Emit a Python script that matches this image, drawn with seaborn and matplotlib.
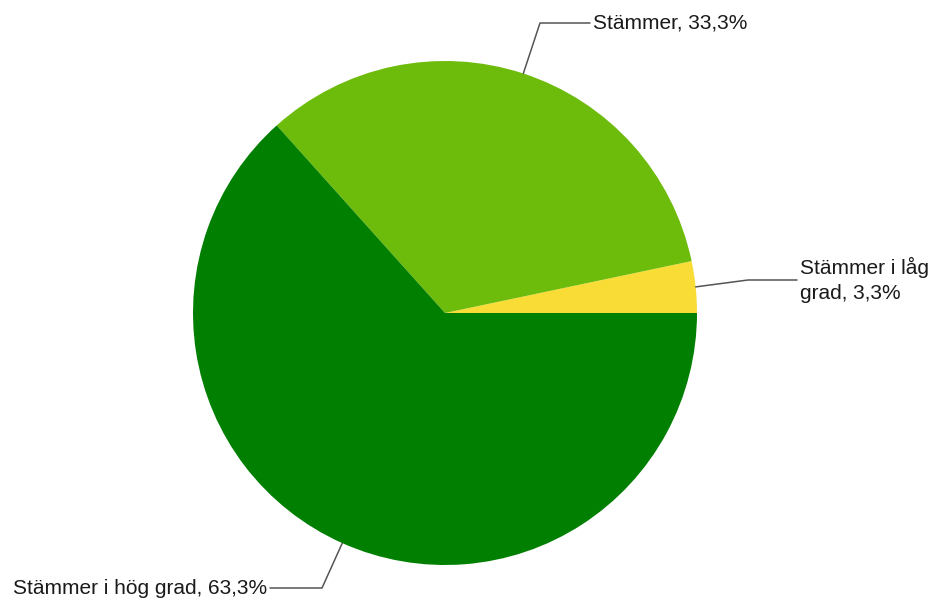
import numpy as np
import seaborn as sns
import matplotlib.pyplot as plt

labels = ["Stämmer i låg\ngrad, 3,3%", "Stämmer, 33,3%", "Stämmer i hög grad, 63,3%"]
values = [3.3, 33.3, 63.3]
colors = ["#F9DC35", "#6DBB0A", "#007F00"]

sns.set_theme(style="white")
plt.rcParams['font.family'] = ['Liberation Sans', 'DejaVu Sans']

W, H = 935, 601
fig = plt.figure(figsize=(W / 100, H / 100), dpi=100)
ax = fig.add_axes([0, 0, 1, 1])

cx, cy, r = 445, H - 313, 252
wedges, _ = ax.pie(values, colors=colors, startangle=0, counterclock=True,
                   center=(cx, cy), radius=r, wedgeprops=dict(linewidth=0))

# leader line elbows and label placement (pixel layout)
elbows = [((748, H - 280), (797, H - 280), "left"),
          ((540, H - 23), (590, H - 23), "left"),
          ((322, H - 588), (270, H - 588), "right")]

for w, lab, (elb, end, ha) in zip(wedges, labels, elbows):
    ang = np.deg2rad((w.theta1 + w.theta2) / 2)
    x0, y0 = cx + r * np.cos(ang), cy + r * np.sin(ang)
    ax.plot([x0, elb[0], end[0]], [y0, elb[1], end[1]], color="#555555", lw=1.1)
    tx = end[0] + 3 if ha == "left" else end[0] - 3
    ax.text(tx, end[1], lab, ha=ha, va="center", fontsize=15, color="#1a1a1a",
            linespacing=1.4)

ax.set_xlim(0, W)
ax.set_ylim(0, H)
ax.set_aspect("auto")
ax.axis("off")

fig.savefig("out.png", dpi=100)
